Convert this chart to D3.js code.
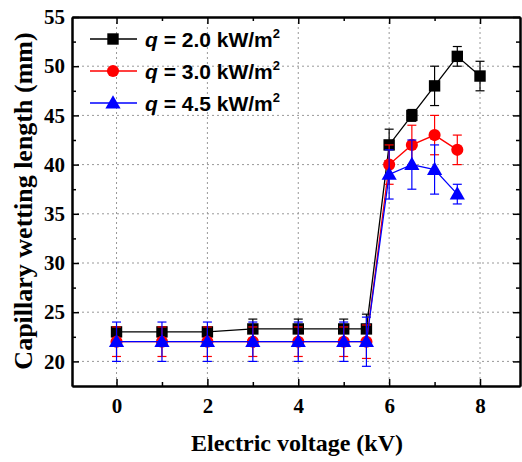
<!DOCTYPE html>
<html><head><meta charset="utf-8">
<script src="https://cdn.jsdelivr.net/npm/d3@7"></script>
<style>body{margin:0;background:#fff}svg{display:block}</style>
</head><body>
<svg id="c" width="522" height="462"></svg>
<script>
const voltages = [0, 1, 2, 3, 4, 5, 5.5, 6, 6.5, 7, 7.5, 8];
const q20 = [23, 23, 23, 23.3, 23.3, 23.3, 23.3, 42, 45, 48, 51, 49];
const q20err = [0.5, 0.5, 0.5, 1, 1, 1, 1.5, 1.6, 0.6, 2, 1, 1.5];
const q30 = [22, 22, 22, 22, 22, 22, 22, 40, 42, 43, 41.5];
const q30err = [1.5, 1.5, 1.5, 1.5, 1.5, 1.5, 1.7, 2, 2, 2, 1.5];
const q45 = [22, 22, 22, 22, 22, 22, 22, 39, 40, 39.5, 37];
const q45err = [2, 2, 2, 2, 2, 2, 2.5, 2.5, 2.5, 2.5, 1];
const seriesNames = ["2.0", "3.0", "4.5"];
const xTicks = [0, 2, 4, 6, 8];
const yTicks = [20, 25, 30, 35, 40, 45, 50, 55];

const svg = d3.select("#c");
const L = 72, R = 520, T = 17, B = 386;
const x = d3.scaleLinear().domain([-0.98, 8.88]).range([L, R]);
const y = d3.scaleLinear().domain([17.5, 55]).range([B, T]);

// grid
const grid = svg.append("g").attr("stroke", "#999").attr("stroke-dasharray", "2,3").attr("stroke-width", 1);
xTicks.forEach(v => grid.append("line").attr("x1", x(v)).attr("x2", x(v)).attr("y1", T).attr("y2", B));
yTicks.filter(v => v < 55).forEach(v => grid.append("line").attr("x1", L).attr("x2", R).attr("y1", y(v)).attr("y2", y(v)));

// axes
const xMinor = [1, 3, 5, 7];
const yMinor = [22.5, 27.5, 32.5, 37.5, 42.5, 47.5, 52.5];
function styleAxis(g) {
  g.selectAll(".domain").attr("stroke", "#000").attr("stroke-width", 2);
  g.selectAll(".tick line").attr("stroke", "#000").attr("stroke-width", 1.5);
}
const fontT = "'Liberation Serif','Times New Roman',serif";
const xb = svg.append("g").attr("transform", `translate(0,${B})`)
  .call(d3.axisBottom(x).tickValues(xTicks).tickSizeInner(-7).tickSizeOuter(0).tickPadding(12).tickFormat(d3.format("d")));
const xbm = svg.append("g").attr("transform", `translate(0,${B})`)
  .call(d3.axisBottom(x).tickValues(xMinor).tickSizeInner(-4).tickSizeOuter(0).tickFormat(""));
const xt = svg.append("g").attr("transform", `translate(0,${T})`)
  .call(d3.axisTop(x).tickValues(xTicks).tickSizeInner(-7).tickSizeOuter(0).tickFormat(""));
const xtm = svg.append("g").attr("transform", `translate(0,${T})`)
  .call(d3.axisTop(x).tickValues(xMinor).tickSizeInner(-4).tickSizeOuter(0).tickFormat(""));
const yl = svg.append("g").attr("transform", `translate(${L},0)`)
  .call(d3.axisLeft(y).tickValues(yTicks).tickSizeInner(-7).tickSizeOuter(0).tickPadding(7).tickFormat(d3.format("d")));
const ylm = svg.append("g").attr("transform", `translate(${L},0)`)
  .call(d3.axisLeft(y).tickValues(yMinor).tickSizeInner(-4).tickSizeOuter(0).tickFormat(""));
const yr = svg.append("g").attr("transform", `translate(${R},0)`)
  .call(d3.axisRight(y).tickValues(yTicks).tickSizeInner(-7).tickSizeOuter(0).tickFormat(""));
const yrm = svg.append("g").attr("transform", `translate(${R},0)`)
  .call(d3.axisRight(y).tickValues(yMinor).tickSizeInner(-4).tickSizeOuter(0).tickFormat(""));
[xb, xbm, xt, xtm, yl, ylm, yr, yrm].forEach(styleAxis);
[xb, yl].forEach(g => g.selectAll("text").attr("font-family", fontT).attr("font-weight", "bold")
  .attr("font-size", 21).attr("fill", "#000"));
xb.selectAll("text").attr("dy", "0.71em");

// axis titles
svg.append("text").attr("x", 297).attr("y", 451).attr("text-anchor", "middle")
  .attr("font-family", fontT).attr("font-weight", "bold").attr("font-size", 24).text("Electric voltage (kV)");
svg.append("text").attr("transform", `translate(32,201) rotate(-90)`).attr("text-anchor", "middle")
  .attr("font-family", fontT).attr("font-weight", "bold").attr("font-size", 26).text("Capillary wetting length (mm)");

// series
const series = [
  { name: seriesNames[0], vals: q20, err: q20err, color: "#000", shape: d3.symbolSquare, size: 130 },
  { name: seriesNames[1], vals: q30, err: q30err, color: "#f00", shape: d3.symbolCircle, size: 115 },
  { name: seriesNames[2], vals: q45, err: q45err, color: "#00f", shape: d3.symbolTriangle, size: 100 }
];
const line = d3.line().x(d => x(d[0])).y(d => y(d[1]));
series.forEach(s => {
  const pts = s.vals.map((v, i) => [voltages[i], v, s.err[i]]);
  const g = svg.append("g");
  g.append("path").attr("d", line(pts)).attr("fill", "none").attr("stroke", s.color).attr("stroke-width", 1.3);
  pts.forEach(p => {
    const cx = x(p[0]), y1 = y(p[1] + p[2]), y2 = y(p[1] - p[2]);
    g.append("line").attr("x1", cx).attr("x2", cx).attr("y1", y1).attr("y2", y2).attr("stroke", s.color).attr("stroke-width", 1.2);
    [y1, y2].forEach(yy => g.append("line").attr("x1", cx - 4.5).attr("x2", cx + 4.5).attr("y1", yy).attr("y2", yy)
      .attr("stroke", s.color).attr("stroke-width", 1.2));
  });
  g.selectAll("path.m").data(pts).join("path").attr("class", "m")
    .attr("d", d3.symbol().type(s.shape).size(s.size))
    .attr("transform", d => `translate(${x(d[0])},${y(d[1]) + (s.shape === d3.symbolTriangle ? 1 : 0)})`)
    .attr("fill", s.color);
});

// legend
const fontS = "'Liberation Sans',Arial,sans-serif";
series.forEach((s, i) => {
  const ly = 39 + i * 32;
  const g = svg.append("g");
  g.append("line").attr("x1", 90).attr("x2", 137).attr("y1", ly).attr("y2", ly).attr("stroke", s.color).attr("stroke-width", 1.3);
  g.append("path").attr("d", d3.symbol().type(s.shape).size(s.size)()).attr("transform", `translate(113,${ly + (s.shape === d3.symbolTriangle ? 1 : 0)})`).attr("fill", s.color);
  const t = g.append("text").attr("x", 145).attr("y", ly + 8).attr("font-family", fontS).attr("font-weight", "bold").attr("font-size", 21);
  t.append("tspan").attr("font-style", "italic").text("q");
  t.append("tspan").text(` = ${s.name} kW/m`);
  t.append("tspan").attr("font-size", 13).attr("dy", -9).text("2");
});
</script>
</body></html>
